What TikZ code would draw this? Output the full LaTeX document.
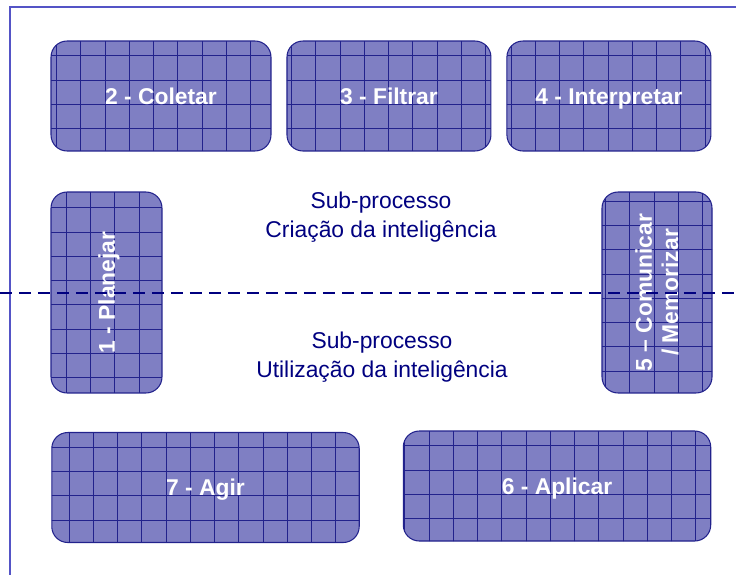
\documentclass[tikz,border=0pt]{standalone}
\usepackage{fontspec}
\setmainfont{Liberation Sans}
\usetikzlibrary{positioning}
\definecolor{azulMarinho}{HTML}{000080}
\definecolor{azulCaixa}{HTML}{7F7FC3}
\definecolor{azulGrade}{HTML}{22228C}
\definecolor{azulMoldura}{HTML}{5454C6}
\tikzset{
  linhaGrade/.style={draw=azulGrade, line width=0.55pt, step=0.485cm},
  caixaBase/.style={
    draw=azulGrade, line width=0.6pt, rounded corners=0.32cm,
    fill=azulCaixa, text=white, align=center,
    font=\fontsize{13}{15}\selectfont\bfseries,
    inner sep=0pt, outer sep=0pt,
    path picture={
      \begin{scope}[shift={(path picture bounding box.north west)}]
        \draw[linhaGrade] (-9cm,-9cm) grid (9cm,9cm);
      \end{scope}}
  },
  linhaUnica/.style={text height=9.4pt, text depth=0pt},
  caixaLarga/.style={caixaBase, linhaUnica, minimum width=4.08cm, minimum height=2.2cm},
  caixaAlta/.style={caixaBase, rotate=90, minimum width=4.02cm, minimum height=2.2cm},
  caixaBaixa/.style={caixaBase, linhaUnica, minimum width=6.15cm, minimum height=2.2cm},
  textoSub/.style={text=azulMarinho, align=center, font=\fontsize{13}{16.5}\selectfont},
  moldura/.style={draw=azulMoldura, line width=0.8pt},
  tracejado/.style={draw=azulMarinho, line width=1.1pt, dash pattern=on 0.24cm off 0.14cm},
}
\begin{document}
\begin{tikzpicture}[x=0.02cm, y=-0.02cm]
    \useasboundingbox (0,0) rectangle (736,575);
    \draw[moldura] (736,7) -- (10,7) -- (10,575);

    \node[caixaLarga, minimum width=4.4cm] (coletar) at (161,96) {2 - Coletar};
    \node[caixaLarga, right=0.32cm of coletar] (filtrar) {3 - Filtrar};
    \node[caixaLarga, right=0.32cm of filtrar] (interpretar) {4 - Interpretar};

    \node[caixaAlta, linhaUnica, minimum height=2.22cm] (planejar) at (106.5,292.5) {1 - Planejar};
    \node[caixaAlta] (comunicar) at (657,292.5) {5 -- Comunicar\\/ Memorizar};

    \node[caixaBaixa] (agir) at (205.5,487.5) {7 - Agir};
    \node[caixaBaixa] (aplicar) at (557,486) {6 - Aplicar};

    \node[textoSub] (subCriacao) at (381,217.5) {Sub-processo\\Criação da inteligência};
    \node[textoSub] (subUtilizacao) at (382,357.5) {Sub-processo\\Utilização da inteligência};

    \draw[tracejado] (0,293) -- (736,293);
  \end{tikzpicture}
\end{document}
